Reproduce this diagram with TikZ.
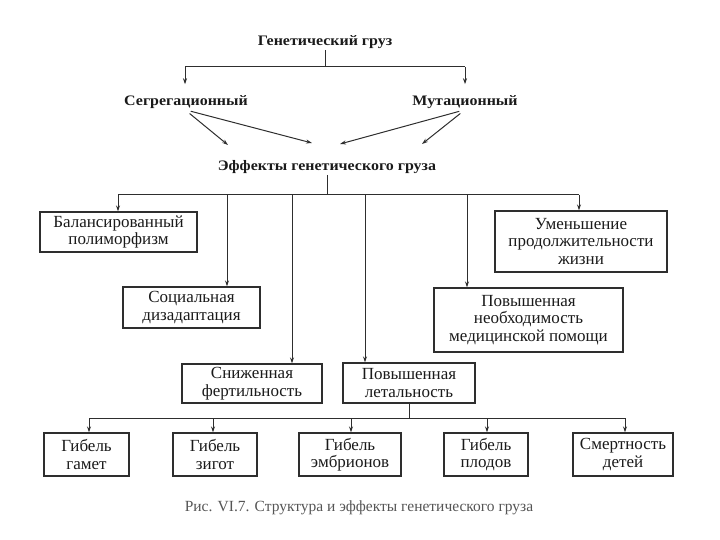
\documentclass[tikz,border=0pt]{standalone}
\usepackage{fontspec}
\setmainfont{Liberation Serif}
\newfontfamily\headfont{Liberation Serif}[FakeStretch=1.1]
\usetikzlibrary{arrows.meta}
\definecolor{ink}{HTML}{1A1A1A}
\definecolor{linec}{HTML}{2E2E2E}
\definecolor{capc}{HTML}{555555}
\begin{document}
\begin{tikzpicture}[x=1pt,y=-1pt,
  head/.style={font=\headfont\fontsize{14.5}{16}\selectfont\bfseries, text=ink, inner sep=1pt},
  box/.style={draw=linec, line width=1.3pt, inner sep=0pt, align=center, text=ink,
    font=\fontsize{17}{17.5}\selectfont},
  conn/.style={draw=linec, line width=1pt},
  arr/.style={conn, -{Stealth[length=6pt,width=4pt]}}]
\useasboundingbox (0,0) rectangle (720,540);
% top
\node[head] (gen) at (325,42) {Генетический груз};
\node[head] (seg) at (186,102) {Сегрегационный};
\node[head] (mut) at (465,102) {Мутационный};
\node[head] (eff) at (327,167) {Эффекты генетического груза};
\coordinate (gl) at (185,67);
\coordinate (gm) at (325,67);
\coordinate (gr) at (465,67);
\draw[conn] (gen.south) -- (gm);
\draw[conn] (gl) -- (gr);
\draw[arr, shorten >=10pt] (gl) -- (gl |- seg.north);
\draw[arr, shorten >=10pt] (gr) -- (gr |- mut.north);
\coordinate (e1) at (228,145);
\coordinate (e2) at (312,143);
\coordinate (e3) at (340,144);
\coordinate (e4) at (422,144);
\draw[arr, shorten <=6pt] (seg.south -| gl) -- (e1);
\draw[arr, shorten <=6pt] (seg.south -| gl) -- (e2);
\draw[arr, shorten <=6pt] (mut.south -| gr) -- (e3);
\draw[arr, shorten <=6pt] (mut.south -| gr) -- (e4);
% effects boxes
\node[box, minimum width=157pt, minimum height=40pt] (bal) at (118.5,232) {Балансированный\\полиморфизм};
\node[box, minimum width=137pt, minimum height=41pt] (soc) at (191.5,307.5) {Социальная\\дизадаптация};
\node[box, minimum width=172pt, minimum height=61pt] (umen) at (581,241.5) {Уменьшение\\продолжительности\\жизни};
\node[box, minimum width=189pt, minimum height=64pt] (med) at (528.5,320) {Повышенная\\необходимость\\медицинской помощи};
\node[box, minimum width=140pt, minimum height=39pt] (fert) at (252,383.5) {Сниженная\\фертильность};
\node[box, minimum width=132pt, minimum height=40pt] (let) at (409,383) {Повышенная\\летальность};
\coordinate (b1) at (118,195);
\coordinate (b2) at (227,195);
\coordinate (b3) at (292,195);
\coordinate (b4) at (365,195);
\coordinate (b5) at (467,195);
\coordinate (b6) at (579,195);
\draw[conn] (eff.south) -- (eff.south |- b1);
\draw[conn] (b1) -- (b6);
\draw[arr] (b1) -- (b1 |- bal.north);
\draw[arr] (b2) -- (b2 |- soc.north);
\draw[arr] (b3) -- (b3 |- fert.north);
\draw[arr] (b4) -- (b4 |- let.north);
\draw[arr] (b5) -- (b5 |- med.north);
\draw[arr] (b6) -- (b6 |- umen.north);
% bottom boxes
\node[box, minimum width=85pt, minimum height=43pt] (gam) at (86.5,454.5) {Гибель\\гамет};
\node[box, minimum width=84pt, minimum height=43pt] (zig) at (215,454.5) {Гибель\\зигот};
\node[box, minimum width=102pt, minimum height=43pt] (emb) at (350,454.5) {Гибель\\эмбрионов};
\node[box, minimum width=84pt, minimum height=43pt] (plod) at (486,454.5) {Гибель\\плодов};
\node[box, minimum width=100pt, minimum height=43pt] (det) at (623,454.5) {Смертность\\детей};
\coordinate (c1) at (89,418);
\coordinate (c2) at (213,418);
\coordinate (c3) at (351,418);
\coordinate (c4) at (487,418);
\coordinate (c5) at (625,418);
\draw[conn] (let.south) -- (let.south |- c1);
\draw[conn] (c1) -- (c5);
\draw[arr] (c1) -- (c1 |- gam.north);
\draw[arr] (c2) -- (c2 |- zig.north);
\draw[arr] (c3) -- (c3 |- emb.north);
\draw[arr] (c4) -- (c4 |- plod.north);
\draw[arr] (c5) -- (c5 |- det.north);
% caption
\node[text=capc, font=\fontsize{15.5}{18}\selectfont, inner sep=0pt] (cap) at (359,508) {Рис. VI.7. Структура и эффекты генетического груза};
\end{tikzpicture}
\end{document}
